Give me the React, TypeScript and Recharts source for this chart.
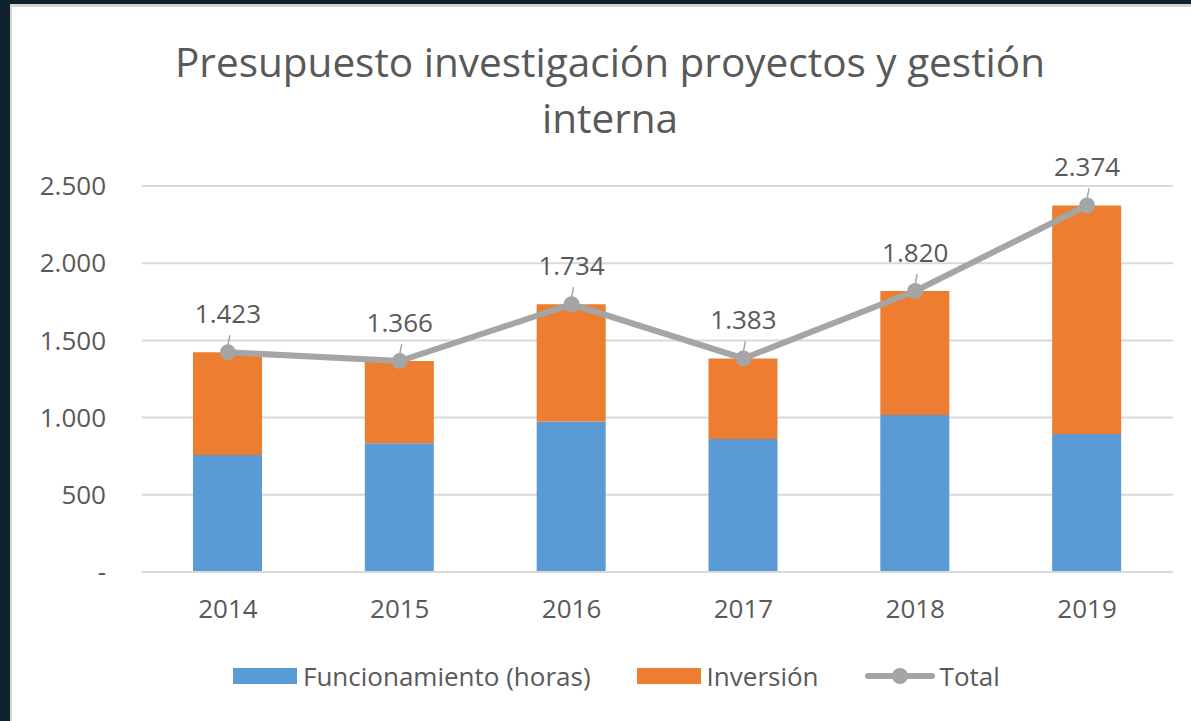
import React from "react";
import { ComposedChart, Bar, Line, XAxis, YAxis, CartesianGrid, Legend, LabelList } from "recharts";

const categories = ["2014", "2015", "2016", "2017", "2018", "2019"];
const funcionamiento = [758, 834, 974, 862, 1017, 894];
const inversion = [665, 532, 760, 521, 803, 1480];
const total = [1423, 1366, 1734, 1383, 1820, 2374];
const yTicks = [0, 500, 1000, 1500, 2000, 2500];

const titleLines = ["Presupuesto investigación proyectos y gestión", "interna"];

const data = categories.map((c, i) => ({
  year: c,
  func: funcionamiento[i],
  inv: inversion[i],
  total: total[i],
}));

const FONT = "'Open Sans', 'Noto Sans', sans-serif";
const TXT = "#595959";
const BLUE = "#5b9bd5";
const ORANGE = "#ed7d31";
const GRAY = "#a5a5a5";
const GRID = "#d9d9d9";

const fmt = (v: number) => (v === 0 ? "-" : v.toLocaleString("de-DE"));

const TotalLabel = (props: any) => {
  const { x, y, value } = props;
  return (
    <g>
      <line x1={x + 2} y1={y - 17} x2={x} y2={y - 7} stroke={GRAY} strokeWidth={1.5} />
      <text
        x={x}
        y={y - 39}
        textAnchor="middle"
        dominantBaseline="central"
        fontSize={26}
        fill={TXT}
        fontFamily={FONT}
      >
        {fmt(value)}
      </text>
    </g>
  );
};

const LegendContent = (props: any) => {
  const { payload } = props;
  return (
    <div style={{ display: "flex", alignItems: "center", marginLeft: 233, fontFamily: FONT, fontSize: 26, color: TXT, height: 30 }}>
      {payload.map((p: any, i: number) => (
        <div key={i} style={{ display: "flex", alignItems: "center", marginRight: 46 }}>
          {p.type === "line" ? (
            <svg width={70} height={20} style={{ marginRight: 5 }}>
              <line x1={3} y1={10} x2={67} y2={10} stroke={GRAY} strokeWidth={6} strokeLinecap="round" />
              <circle cx={35} cy={10} r={8} fill={GRAY} />
            </svg>
          ) : (
            <div style={{ width: 64, height: 16, background: p.color, marginRight: 6 }} />
          )}
          <span style={{ lineHeight: "30px" }}>{p.value}</span>
        </div>
      ))}
    </div>
  );
};

export default function App() {
  return (
    <div style={{ position: "fixed", left: 0, top: 0, width: 1191, height: 721, background: "#0e222d", overflow: "hidden" }}>
      <div
        style={{
          position: "absolute",
          left: 10,
          top: 4,
          width: 1181,
          height: 717,
          background: "#ffffff",
          borderLeft: "2px solid #d4d4d4",
          borderTop: "3px solid #d4d4d4",
          boxSizing: "border-box",
        }}
      />
      <div
        style={{
          position: "absolute",
          left: 0,
          width: 1220,
          top: 34,
          textAlign: "center",
          fontFamily: FONT,
          fontSize: 40.5,
          color: TXT,
          lineHeight: "56px",
        }}
      >
        {titleLines.map((t, i) => (
          <div key={i}>{t}</div>
        ))}
      </div>
      <div style={{ position: "absolute", left: 0, top: 0 }}>
        <ComposedChart
          width={1191}
          height={721}
          data={data}
          margin={{ top: 186, right: 18, bottom: 119, left: 0 }}
          barCategoryGap={0}
        >
          <CartesianGrid vertical={false} stroke={GRID} strokeWidth={2} />
          <XAxis
            dataKey="year"
            axisLine={{ stroke: GRID, strokeWidth: 2 }}
            tickLine={false}
            tickSize={0}
            tickMargin={28}
            tick={{ fontSize: 26, fill: TXT, fontFamily: FONT }}
          />
          <YAxis
            width={142}
            domain={[0, 2500]}
            ticks={yTicks}
            axisLine={false}
            tickLine={false}
            tickSize={0}
            tickMargin={36}
            tickFormatter={fmt}
            tick={{ fontSize: 26, fill: TXT, fontFamily: FONT }}
          />
          <Legend verticalAlign="middle" align="center" wrapperStyle={{ left: 0, top: 661, width: 1191 }} content={LegendContent} />
          <Bar dataKey="func" name="Funcionamiento (horas)" stackId="a" fill={BLUE} barSize={69} isAnimationActive={false} />
          <Bar dataKey="inv" name="Inversión" stackId="a" fill={ORANGE} barSize={69} isAnimationActive={false} />
          <Line
            dataKey="total"
            name="Total"
            type="linear"
            stroke={GRAY}
            strokeWidth={6}
            dot={{ r: 8, fill: GRAY, stroke: GRAY, strokeWidth: 0 }}
            isAnimationActive={false}
            legendType="line"
          >
            <LabelList dataKey="total" content={TotalLabel} />
          </Line>
        </ComposedChart>
      </div>
    </div>
  );
}
